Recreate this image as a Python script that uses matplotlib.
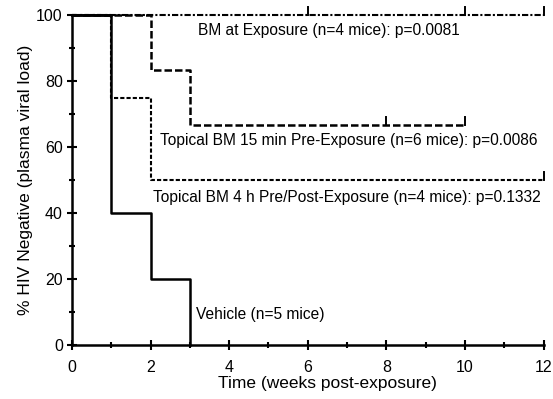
import matplotlib.pyplot as plt
from matplotlib.ticker import MultipleLocator

plt.rcParams["font.family"] = ["Liberation Sans", "DejaVu Sans"]

# step curves: (weeks, % negative)
vehicle_x = [0, 1, 2, 3]
vehicle_y = [100, 40, 20, 0]

bm_exp_x = [0, 12]
bm_exp_y = [100, 100]
bm_exp_cens = [6, 10, 12]

bm15_x = [0, 2, 3, 10]
bm15_y = [100, 83.3, 66.7, 66.7]
bm15_cens = [8, 10]

bm4h_x = [0, 1, 2, 12]
bm4h_y = [100, 75, 50, 50]
bm4h_cens = [12]

labels = [
    "BM at Exposure (n=4 mice): p=0.0081",
    "Topical BM 15 min Pre-Exposure (n=6 mice): p=0.0086",
    "Topical BM 4 h Pre/Post-Exposure (n=4 mice): p=0.1332",
    "Vehicle (n=5 mice)",
]


def censor(ax, xs, y):
    for x in xs:
        ax.plot([x, x], [y, y + 2.5], color="black", lw=1.4, clip_on=False)


fig = plt.figure(figsize=(5.53, 3.99), dpi=100)
ax = fig.add_axes([0.130, 0.135, 0.853, 0.827])

ax.step(bm4h_x, bm4h_y, where="post", color="black", lw=1.5,
        linestyle=(0, (2, 1)), clip_on=False)
ax.step(bm15_x, bm15_y, where="post", color="black", lw=1.8,
        linestyle=(0, (3, 1.2)), clip_on=False)
ax.step(bm_exp_x, bm_exp_y, where="post", color="black", lw=1.5,
        linestyle=(0, (3, 1, 1, 1)), clip_on=False)
ax.step(vehicle_x, vehicle_y, where="post", color="black", lw=1.8,
        clip_on=False)
ax.plot([0, 1], [100, 100], color="black", lw=1.8, clip_on=False)

censor(ax, bm_exp_cens, 100)
censor(ax, bm15_cens, 66.7)
censor(ax, bm4h_cens, 50)

ax.text(3.2, 95.5, labels[0], fontsize=11.2, va="center")
ax.text(2.23, 62.1, labels[1], fontsize=11.2, va="center")
ax.text(2.06, 44.8, labels[2], fontsize=11.2, va="center")
ax.text(3.17, 9.4, labels[3], fontsize=11.2, va="center")

ax.set_xlim(0, 12)
ax.set_ylim(0, 100)
ax.xaxis.set_major_locator(MultipleLocator(2))
ax.xaxis.set_minor_locator(MultipleLocator(1))
ax.yaxis.set_major_locator(MultipleLocator(20))
ax.yaxis.set_minor_locator(MultipleLocator(10))
ax.tick_params(which="both", direction="inout", width=1.5, labelsize=11.5)
ax.tick_params(which="major", length=7, pad=3)
ax.tick_params(axis="x", which="major", pad=7)
ax.tick_params(which="minor", length=5)

for s in ["top", "right"]:
    ax.spines[s].set_visible(False)
for s in ["left", "bottom"]:
    ax.spines[s].set_linewidth(1.8)

ax.set_xlabel("Time (weeks post-exposure)", fontsize=12.5, labelpad=2)
ax.xaxis.set_label_coords(0.541, -0.095)
ax.set_ylabel("% HIV Negative (plasma viral load)", fontsize=12.5, labelpad=2)

fig.savefig("out.png", dpi=100)
